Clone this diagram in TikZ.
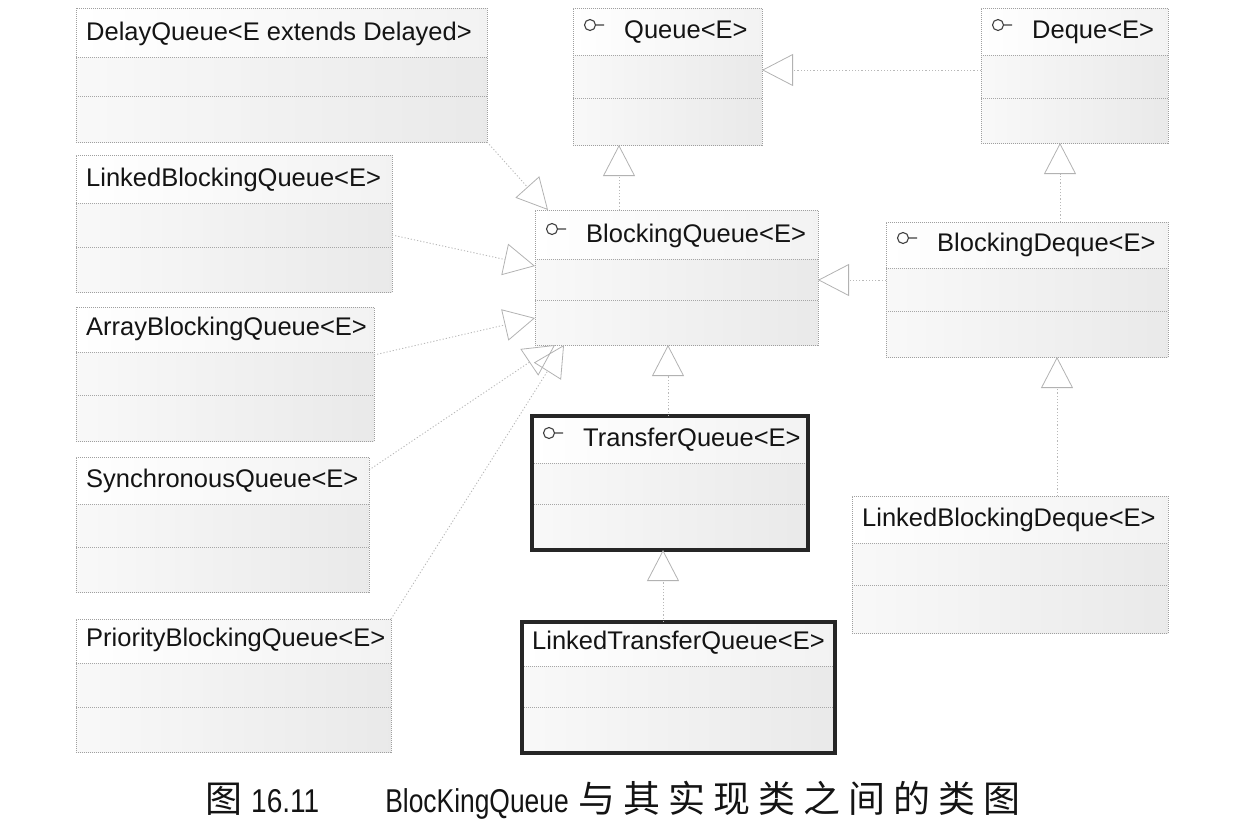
\documentclass[tikz,border=0pt]{standalone}
\usepackage{fontspec}
\usepackage{graphicx}
\setmainfont{Liberation Sans}
\newfontfamily\cjk{Noto Sans CJK SC}
\usetikzlibrary{arrows.meta,calc}

\newif\ifumlicon
\newcommand\umlbox[9]{%
  \pgfmathsetmacro\umlw{#4-#2}%
  \pgfmathsetmacro\umlh{#5-#3}%
  \path[topfill] (#2,#3) rectangle (#4,#6);
  \path[lowfill] (#2,#6) rectangle (#4,#5);
  \draw[divline] (#2,#6) -- (#4,#6) (#2,#7) -- (#4,#7);
  \node[#8, anchor=north west, minimum width=\umlw pt, minimum height=\umlh pt] (#1) at (#2,#3) {};
  \ifumlicon
    \draw[iconline] ({#2+17},{#6-30}) circle[radius=5.5pt] ({#2+22.5},{#6-30}) -- ({#2+31},{#6-30});
    \node[title, anchor=base west] (#1-t) at ({#2+51},{#6-17}) {#9};
  \else
    \node[title, anchor=base west] (#1-t) at ({#2+10},{#6-17}) {#9};
  \fi
}

\tikzset{
  thinbox/.style={draw=gray!75, dash pattern=on 1pt off 1pt, line width=0.9pt, inner sep=0pt, outer sep=0pt},
  thickbox/.style={draw=black!85, line width=4pt, inner sep=0pt, outer sep=0pt},
  topfill/.style={left color=white, right color=gray!10},
  lowfill/.style={left color=gray!5, right color=gray!17},
  divline/.style={draw=gray!70, line width=0.8pt, dash pattern=on 1pt off 1pt},
  title/.style={font=\fontsize{25.5}{30}\selectfont, inner sep=0pt, text=black!92},
  iconline/.style={draw=black!75, line width=1.1pt},
  realize/.style={draw=gray!55, line width=0.9pt, dash pattern=on 1.2pt off 2pt,
    -{Triangle[open, length=31pt, width=32pt, line width=0.8pt, color=gray!60]}},
}

\begin{document}
\begin{tikzpicture}[x=1pt, y=-1pt]
\useasboundingbox (0,0) rectangle (1234,823);

% implementations
\umliconfalse
\umlbox{dq}{76}{8}{487}{142}{57}{96}{thinbox}{DelayQueue<E extends Delayed>}
\umlbox{lbq}{76}{155}{392}{292}{203}{247}{thinbox}{LinkedBlockingQueue<E>}
\umlbox{abq}{76}{307}{374}{441}{352}{395}{thinbox}{ArrayBlockingQueue<E>}
\umlbox{sq}{76}{457}{369}{592}{504}{547}{thinbox}{SynchronousQueue<E>}
\umlbox{pbq}{76}{619}{391}{752}{663}{707}{thinbox}{PriorityBlockingQueue<E>}
\umlbox{ltq}{522}{622}{835}{753}{666}{707}{thickbox}{LinkedTransferQueue<E>}
\umlbox{lbd}{852}{496}{1168}{633}{543}{585}{thinbox}{LinkedBlockingDeque<E>}

% interfaces
\umlicontrue
\umlbox{q}{573}{8}{762}{145}{55}{98}{thinbox}{Queue<E>}
\umlbox{dqe}{981}{8}{1168}{143}{55}{98}{thinbox}{Deque<E>}
\umlbox{bq}{535}{210}{818}{345}{259}{300}{thinbox}{BlockingQueue<E>}
\umlbox{bd}{886}{222}{1168}{357}{268}{311}{thinbox}{BlockingDeque<E>}
\umlbox{tq}{532}{416}{808}{550}{463}{504}{thickbox}{TransferQueue<E>}
\umliconfalse

% connectors
\draw[realize] (dq.south east) -- ([xshift=13pt]bq.north west);
\draw[realize] ([yshift=-80pt]lbq.north east) -- ([yshift=-56pt]bq.north west);
\draw[realize] ([yshift=-48pt]abq.north east) -- ([yshift=-108pt]bq.north west);
\draw[realize] ([yshift=-13pt]sq.north east) -- ([xshift=20pt]bq.south west);
\draw[realize] (pbq.north east) -- ([xshift=29pt]bq.south west);

\draw[realize] ([yshift=-62pt]dqe.north west) -- ([yshift=-62pt]q.north east);
\coordinate (bqT) at ([xshift=84pt]bq.north west);
\draw[realize] (bqT) -- (bqT |- q.south);
\coordinate (bdT) at ([xshift=174pt]bd.north west);
\draw[realize] (bdT) -- (bdT |- dqe.south);
\coordinate (bdW) at ([yshift=-58pt]bd.north west);
\draw[realize] (bdW) -- (bdW -| bq.east);
\coordinate (tqT) at ([xshift=136pt]tq.north west);
\draw[realize] (tqT) -- (tqT |- bq.south);
\coordinate (ltqT) at ([xshift=141pt]ltq.north west);
\draw[realize] (ltqT) -- (ltqT |- tq.south);
\coordinate (lbdT) at ([xshift=205pt]lbd.north west);
\draw[realize] (lbdT) -- (lbdT |- bd.south);

% caption
\node[anchor=base west, inner sep=0pt, text=black!92] (cap) at (205,812)
  {{\cjk\fontsize{37}{42}\selectfont 图}\hspace{9pt}%
   \scalebox{0.85}[1]{\fontsize{33}{36}\selectfont 16.11}\hspace{66pt}%
   \scalebox{0.8}[1]{\fontsize{33}{36}\selectfont BlocKingQueue}\hspace{10pt}%
   {\cjk\fontsize{37}{42}\selectfont 与\hspace{8pt}其\hspace{8pt}实\hspace{8pt}现\hspace{8pt}类\hspace{8pt}之\hspace{8pt}间\hspace{8pt}的\hspace{8pt}类\hspace{8pt}图}};
\end{tikzpicture}
\end{document}
